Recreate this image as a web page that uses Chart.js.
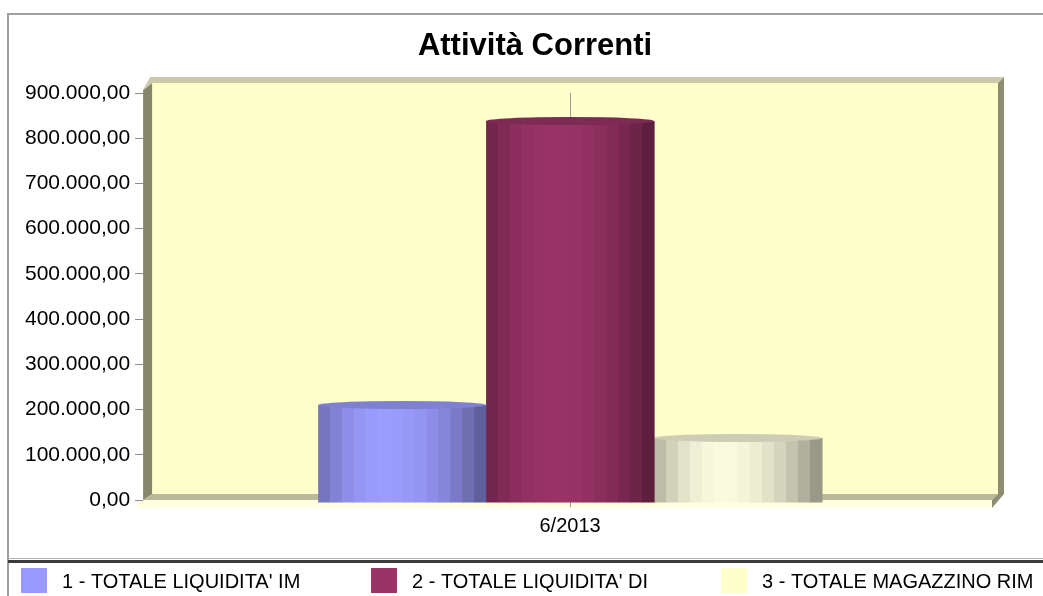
<!DOCTYPE html>
<html>
<head>
<meta charset="utf-8">
<script src="https://cdn.jsdelivr.net/npm/chart.js@4.4.1/dist/chart.umd.min.js"></script>
<style>
    html, body { margin: 0; padding: 0; background: #ffffff; overflow: hidden; }
    #chart { display: block; }
</style>
</head>
<body>
<canvas id="chart" width="1043" height="596"></canvas>
<script>
const TITLE = 'Attività Correnti';
const CATEGORIES = ['6/2013'];
const SERIES_NAMES = ["1 - TOTALE LIQUIDITA' IM", "2 - TOTALE LIQUIDITA' DI", "3 - TOTALE MAGAZZINO RIM"];
const LIQUIDITA_IM = [210000];
const LIQUIDITA_DI = [838000];
const MAGAZZINO_RIM = [137000];
const Y_TICK_LABELS = ['0,00', '100.000,00', '200.000,00', '300.000,00', '400.000,00',
    '500.000,00', '600.000,00', '700.000,00', '800.000,00', '900.000,00'];

// legend colours and the lightest stripe of each cylinder
const SERIES_COLORS = ['#9999ff', '#993366', '#ffffcc'];
const PEAK_COLORS = [[156, 156, 255], [153, 51, 102], [250, 250, 222]];

const FONT = "'Liberation Sans', Arial, sans-serif";

function mulColor(rgb, f) {
    return 'rgb(' + rgb.map(c => Math.round(c * f)).join(',') + ')';
}

// brightness across the cylinder, brightest a bit left of centre
function stripeShade(t) {
    if (t < 0.4) {
        return 1 - 0.3 * Math.pow((0.4 - t) / 0.4, 2);
    }
    return 1 - 0.44 * Math.pow((t - 0.4) / 0.6, 2);
}

function drawCylinder(ctx, left, w, top, base, peak) {
    const n = 14, ry = 4;
    const sw = w / n;
    for (let i = 0; i < n; i++) {
        ctx.fillStyle = mulColor(peak, stripeShade((i + 0.5) / n));
        ctx.fillRect(left + i * sw, top, sw + 0.6, base - top + 3);
    }
    ctx.fillStyle = mulColor(peak, 0.82);
    ctx.beginPath();
    ctx.ellipse(left + w / 2, top, w / 2, ry, 0, 0, Math.PI * 2);
    ctx.fill();
}

// 3D style wall, side, top band and floor around the plot area
const framePlugin = {
    id: 'frame3d',
    beforeDraw(chart) {
        const ctx = chart.ctx;
        const { left: L, top: T, right: R, bottom: B } = chart.chartArea;
        ctx.save();
        // outer border
        ctx.strokeStyle = '#a0a0a0';
        ctx.lineWidth = 2;
        ctx.beginPath();
        ctx.moveTo(8, 596);
        ctx.lineTo(8, 14);
        ctx.lineTo(1043, 14);
        ctx.stroke();

        const poly = (pts, color) => {
            ctx.fillStyle = color;
            ctx.beginPath();
            ctx.moveTo(pts[0][0], pts[0][1]);
            for (let i = 1; i < pts.length; i++) ctx.lineTo(pts[i][0], pts[i][1]);
            ctx.closePath();
            ctx.fill();
        };
        // back wall
        ctx.fillStyle = '#ffffcc';
        ctx.fillRect(L + 9, T - 10, R - L - 8, B - T + 4);
        // floor front
        ctx.fillStyle = '#fffee0';
        ctx.fillRect(L - 6, B, R - L + 1, 8);
        // floor band
        poly([[L, B], [L + 9, B - 6], [R + 1, B - 6], [R - 5, B]], '#b9b99a');
        // left side
        poly([[L, T - 3], [L + 9, T - 10], [L + 9, B - 6], [L, B]], '#86866a');
        // top band
        poly([[L, T - 3], [L + 7, T - 16], [R + 7, T - 16], [R + 1, T - 10], [L + 9, T - 10]], '#cbcbab');
        // right side
        poly([[R + 1, T - 10], [R + 7, T - 16], [R + 7, B - 6], [R - 5, B + 8], [R - 5, B], [R + 1, B - 6]], '#8d8d72');
        ctx.restore();
    }
};

const cylinderPlugin = {
    id: 'cylinders',
    beforeDatasetsDraw(chart) {
        const ctx = chart.ctx;
        ctx.save();
        const order = [0, 2, 1];
        order.forEach(di => {
            const meta = chart.getDatasetMeta(di);
            meta.data.forEach(bar => {
                const p = bar.getProps(['x', 'y', 'base', 'width'], true);
                drawCylinder(ctx, p.x - p.width / 2, p.width, p.y, p.base, PEAK_COLORS[di]);
            });
        });
        ctx.restore();
        return false;
    }
};

const titleLegendPlugin = {
    id: 'titleLegend',
    afterDraw(chart) {
        const ctx = chart.ctx;
        ctx.save();
        ctx.fillStyle = '#000000';
        ctx.font = 'bold 31px ' + FONT;
        ctx.textAlign = 'center';
        ctx.textBaseline = 'middle';
        ctx.fillText(TITLE, 535, 46);

        // separator above legend
        ctx.fillStyle = '#b0b0b0';
        ctx.fillRect(8, 558, 1035, 1);
        ctx.fillStyle = '#3a3a3a';
        ctx.fillRect(8, 560, 1035, 3);

        ctx.font = '20px ' + FONT;
        ctx.textAlign = 'left';
        chart.data.datasets.forEach((ds, i) => {
            const x = 21 + i * 350;
            ctx.fillStyle = ds.backgroundColor;
            ctx.fillRect(x, 568, 26, 25);
            ctx.fillStyle = '#000000';
            ctx.fillText(ds.label, x + 41, 582);
        });
        ctx.restore();
    }
};

new Chart(document.getElementById('chart'), {
    type: 'bar',
    data: {
        labels: CATEGORIES,
        datasets: [
            { label: SERIES_NAMES[0], data: LIQUIDITA_IM, backgroundColor: SERIES_COLORS[0] },
            { label: SERIES_NAMES[1], data: LIQUIDITA_DI, backgroundColor: SERIES_COLORS[1] },
            { label: SERIES_NAMES[2], data: MAGAZZINO_RIM, backgroundColor: SERIES_COLORS[2] }
        ]
    },
    options: {
        responsive: false,
        animation: false,
        categoryPercentage: 0.59,
        barPercentage: 1,
        layout: {
            padding: { left: 20, right: 46, top: 93, bottom: 51 }
        },
        plugins: {
            legend: { display: false },
            title: { display: false },
            tooltip: { enabled: false }
        },
        scales: {
            x: {
                border: { display: false },
                grid: {
                    offset: false,
                    color: '#9a9a9a',
                    lineWidth: 1,
                    tickLength: 7
                },
                ticks: {
                    color: '#000000',
                    padding: 7,
                    font: { family: FONT, size: 20 }
                }
            },
            y: {
                min: 0,
                max: 900000,
                border: { display: false },
                grid: {
                    drawOnChartArea: false,
                    color: '#8a8a8a',
                    tickLength: 8
                },
                ticks: {
                    stepSize: 100000,
                    color: '#000000',
                    padding: 5,
                    font: { family: FONT, size: 21 },
                    callback: value => Y_TICK_LABELS[Math.round(value / 100000)]
                }
            }
        }
    },
    plugins: [framePlugin, cylinderPlugin, titleLegendPlugin]
});
</script>
</body>
</html>
